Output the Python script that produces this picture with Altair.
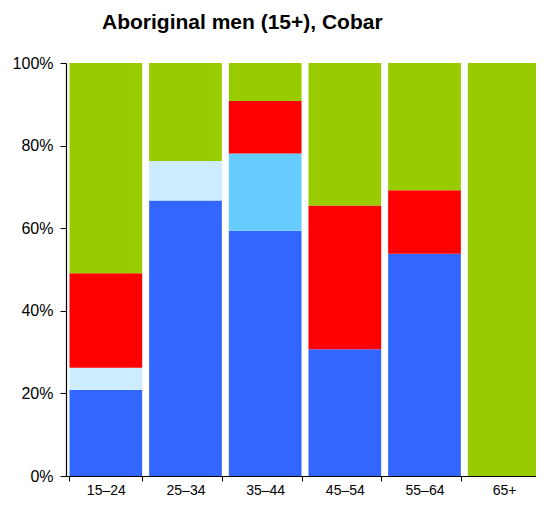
import altair as alt
import pandas as pd

ages = ["15–24", "25–34", "35–44", "45–54", "55–64", "65+"]
series = ["Employed full-time", "Employed part-time", "Employed, away from work",
          "Unemployed", "Not in the labour force"]
colors = ["#3366FF", "#CCECFF", "#66CCFF", "#FF0000", "#99CC00"]

full_time = [20.8, 66.7, 59.4, 30.7, 53.8, 0.0]
part_time = [5.4, 9.6, 0.0, 0.0, 0.0, 0.0]
away = [0.0, 0.0, 18.7, 0.0, 0.0, 0.0]
unemployed = [22.9, 0.0, 12.7, 34.8, 15.4, 0.0]
not_in_lf = [50.9, 23.7, 9.2, 34.5, 30.8, 100.0]

rows = []
for si, (name, vals) in enumerate(zip(series, [full_time, part_time, away, unemployed, not_in_lf])):
    for a, v in zip(ages, vals):
        rows.append({"age": a, "series": name, "order": si, "value": v})
df = pd.DataFrame(rows)

FONT = "Liberation Sans"

chart = alt.Chart(df).mark_bar().encode(
    x=alt.X("age:N", sort=ages, title=None,
            scale=alt.Scale(paddingInner=0.0875, paddingOuter=0.04375),
            axis=alt.Axis(labelAngle=0, tickBand="extent", tickSize=5,
                          labelPadding=2, labelFontSize=14, domainWidth=1.2)),
    y=alt.Y("value:Q", stack="normalize", title=None,
            scale=alt.Scale(domain=[0, 1], nice=False),
            axis=alt.Axis(values=[0, 0.2, 0.4, 0.6, 0.8, 1], format=".0%", grid=False,
                          tickSize=6, labelPadding=7, labelFontSize=16, domainWidth=1.2)),
    color=alt.Color("series:N", scale=alt.Scale(domain=series, range=colors), legend=None),
    order=alt.Order("order:Q", sort="ascending"),
).properties(
    width=478,
    height=413,
    title=alt.TitleParams("Aboriginal men (15+), Cobar", anchor="start", frame="group",
                          dx=36, offset=22, fontSize=21, font=FONT, fontWeight="bold",
                          color="black"),
    autosize=alt.AutoSizeParams(type="none"),
    padding={"left": 58, "top": 55, "right": -8, "bottom": 22},
).configure_view(
    stroke=None
).configure_axis(
    labelFont=FONT, labelColor="black", domainColor="black", tickColor="black", grid=False
)

chart.save("out.html", embed_options={"renderer": "svg", "actions": False})
